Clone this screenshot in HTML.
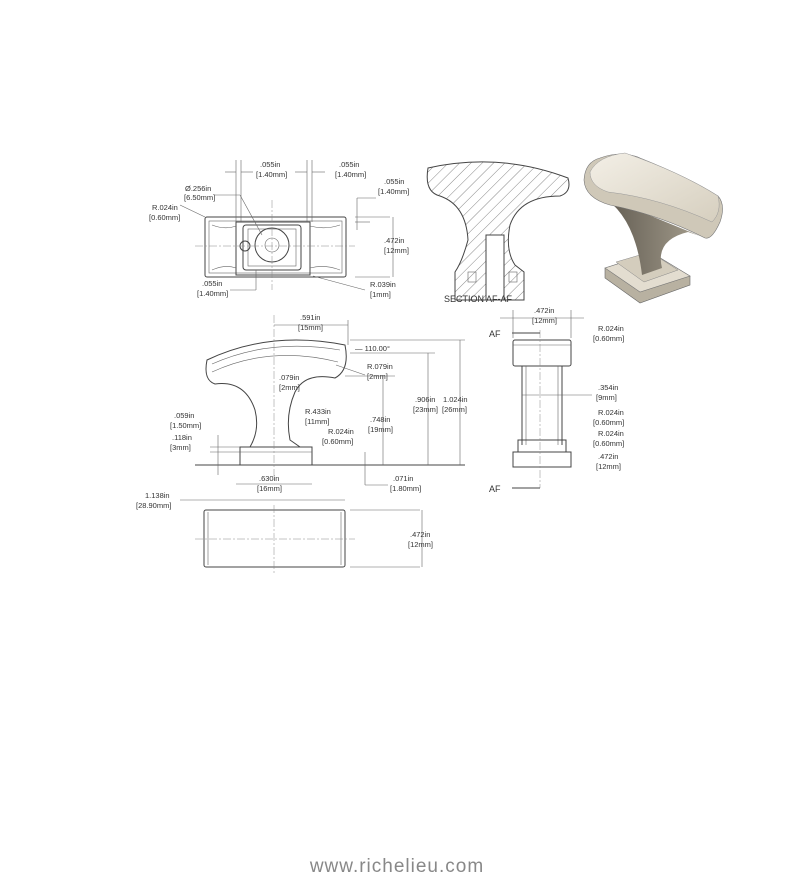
<!DOCTYPE html>
<html><head><meta charset="utf-8"><style>
html,body{margin:0;padding:0;background:#fff;}
svg{display:block;}
text{font-family:"Liberation Sans",sans-serif;font-size:7.5px;fill:#333;}
.l{stroke:#444;stroke-width:1;fill:none;}
.t{stroke:#666;stroke-width:0.6;fill:none;}
.c{stroke:#888;stroke-width:0.5;fill:none;stroke-dasharray:8 2 2 2;}
</style></head><body>
<svg width="796" height="880" viewBox="0 0 796 880" xmlns="http://www.w3.org/2000/svg">
<defs>
<pattern id="h" width="8" height="8" patternUnits="userSpaceOnUse" patternTransform="rotate(45)"><line x1="0" y1="0" x2="0" y2="8" stroke="#555" stroke-width="0.7"/></pattern>
<linearGradient id="g" x1="0" y1="0" x2="1" y2="1"><stop offset="0" stop-color="#f3efe6"/><stop offset="1" stop-color="#d6cfbf"/></linearGradient>
<linearGradient id="g2" x1="0" y1="0" x2="1" y2="0"><stop offset="0" stop-color="#5e584e"/><stop offset="1" stop-color="#a49d8d"/></linearGradient>
</defs>

<!-- TOP VIEW -->
<rect class="l" x="205" y="217" width="141" height="60" rx="2"/>
<rect class="t" x="209" y="221" width="133" height="52"/>
<rect class="l" x="236" y="222" width="74" height="53"/>
<rect class="l" x="243" y="225" width="58" height="45" rx="3"/>
<rect class="t" x="248" y="229" width="48" height="37"/>
<circle class="l" cx="272" cy="245" r="17"/>
<circle class="t" cx="272" cy="245" r="7"/>
<circle class="l" cx="245" cy="246" r="5"/>
<path class="t" d="M212 225 Q225 230 236 226 M212 270 Q225 264 236 268 M310 226 Q325 230 340 225 M310 268 Q325 264 340 270"/>
<line class="c" x1="195" y1="246" x2="355" y2="246"/><line class="c" x1="272" y1="200" x2="272" y2="290"/>
<line class="t" x1="236" y1="160" x2="236" y2="222"/><line class="t" x1="241" y1="160" x2="241" y2="222"/>
<line class="t" x1="307" y1="160" x2="307" y2="222"/><line class="t" x1="312" y1="160" x2="312" y2="222"/>
<line class="t" x1="225" y1="172" x2="236" y2="172"/><line class="t" x1="241" y1="172" x2="253" y2="172"/>
<line class="t" x1="295" y1="172" x2="307" y2="172"/><line class="t" x1="312" y1="172" x2="325" y2="172"/>
<text x="260" y="167">.055in</text><text x="256" y="177">[1.40mm]</text>
<text x="339" y="167">.055in</text><text x="335" y="177">[1.40mm]</text>
<text x="384" y="184">.055in</text><text x="378" y="194">[1.40mm]</text>
<line class="t" x1="355" y1="217" x2="390" y2="217"/><line class="t" x1="355" y1="222" x2="370" y2="222"/><line class="t" x1="355" y1="277" x2="390" y2="277"/>
<line class="t" x1="357" y1="198" x2="357" y2="230"/><line class="t" x1="357" y1="198" x2="376" y2="198"/>
<line class="t" x1="393" y1="217" x2="393" y2="277"/>
<text x="384" y="243">.472in</text><text x="384" y="253">[12mm]</text>
<text x="185" y="191">Ø.256in</text><text x="184" y="200">[6.50mm]</text>
<line class="t" x1="214" y1="195" x2="240" y2="195"/><line class="t" x1="240" y1="195" x2="262" y2="235"/>
<text x="152" y="210">R.024in</text><text x="149" y="220">[0.60mm]</text>
<line class="t" x1="180" y1="205" x2="205" y2="217"/>
<text x="202" y="286">.055in</text><text x="197" y="296">[1.40mm]</text>
<line class="t" x1="230" y1="290" x2="256" y2="290"/><line class="t" x1="256" y1="270" x2="256" y2="290"/>
<text x="370" y="287">R.039in</text><text x="370" y="297">[1mm]</text>
<line class="t" x1="313" y1="276" x2="365" y2="290"/>

<!-- SECTION -->
<path d="M428 168 Q500 152 568 178 Q572 192 560 196 Q520 196 510 225 Q505 250 515 265 L524 272 L524 300 L455 300 L455 272 Q462 262 468 240 Q466 205 440 196 Q424 192 428 168 Z" fill="url(#h)" stroke="#444"/>
<rect x="486" y="235" width="18" height="65" fill="#fff" stroke="#444"/>
<rect x="468" y="272" width="8" height="10" class="t"/><rect x="509" y="272" width="8" height="10" class="t"/>
<text x="444" y="302" style="font-size:9px">SECTION AF-AF</text>

<!-- 3D -->
<path d="M605 268 L652 253 L690 276 L690 285 L640 303 L605 278 Z" fill="#b8b1a1" stroke="#666" stroke-width="0.6"/>
<path d="M605 268 L652 253 L690 276 L640 292 Z" fill="#e3ddd0" stroke="#777" stroke-width="0.6"/>
<path d="M616 262 L650 252 L678 270 L644 282 Z" fill="#d4cdbd" stroke="#888" stroke-width="0.5"/>
<path d="M600 195 Q635 215 642 275 L662 268 Q655 240 688 232 L700 236 Z" fill="url(#g2)"/>
<path d="M584 180 Q585 162 600 158 Q622 150 640 158 Q690 178 718 196 Q726 205 720 222 Q712 240 705 238 Q660 215 610 205 Q585 198 584 180 Z" fill="#cfc8b8" stroke="#777" stroke-width="0.6"/>
<path d="M590 172 Q598 156 625 153 Q680 172 718 196 Q722 212 712 222 Q660 198 608 192 Q590 186 590 172 Z" fill="url(#g)" stroke="#999" stroke-width="0.5"/>

<!-- FRONT VIEW -->
<path class="l" d="M207 360 Q270 330 345 345 Q350 370 335 378 Q305 372 295 392 Q285 415 290 440 L300 447 L250 447 Q260 430 255 410 Q245 380 215 384 Q203 380 207 360 Z"/>
<path class="t" d="M212 364 Q270 338 340 350 M212 372 Q270 345 338 362"/>
<rect class="l" x="240" y="447" width="72" height="18"/>
<line class="t" x1="240" y1="452" x2="312" y2="452"/>
<line class="l" x1="195" y1="465" x2="465" y2="465"/>
<line class="c" x1="274" y1="315" x2="274" y2="480"/>
<line class="t" x1="274" y1="325" x2="348" y2="325"/><line class="t" x1="348" y1="320" x2="348" y2="345"/>
<text x="300" y="320">.591in</text><text x="298" y="330">[15mm]</text>
<text x="355" y="351">— 110.00°</text>
<text x="367" y="369">R.079in</text><text x="367" y="379">[2mm]</text>
<line class="t" x1="336" y1="365" x2="365" y2="375"/>
<text x="279" y="380">.079in</text><text x="279" y="390">[2mm]</text>
<text x="305" y="414">R.433in</text><text x="305" y="424">[11mm]</text>
<text x="328" y="434">R.024in</text><text x="322" y="444">[0.60mm]</text>
<text x="370" y="422">.748in</text><text x="368" y="432">[19mm]</text>
<line class="t" x1="383" y1="376" x2="383" y2="465"/><line class="t" x1="345" y1="376" x2="395" y2="376"/>
<text x="415" y="402">.906in</text><text x="413" y="412">[23mm]</text>
<line class="t" x1="428" y1="353" x2="428" y2="465"/><line class="t" x1="350" y1="353" x2="435" y2="353"/>
<text x="443" y="402">1.024in</text><text x="442" y="412">[26mm]</text>
<line class="t" x1="460" y1="340" x2="460" y2="465"/><line class="t" x1="350" y1="340" x2="465" y2="340"/>
<text x="174" y="418">.059in</text><text x="170" y="428">[1.50mm]</text>
<text x="172" y="440">.118in</text><text x="170" y="450">[3mm]</text>
<line class="t" x1="210" y1="447" x2="240" y2="447"/><line class="t" x1="210" y1="452" x2="240" y2="452"/>
<line class="t" x1="218" y1="435" x2="218" y2="475"/>
<text x="259" y="481">.630in</text><text x="257" y="491">[16mm]</text>
<line class="t" x1="236" y1="484" x2="312" y2="484"/>
<text x="393" y="481">.071in</text><text x="390" y="491">[1.80mm]</text>
<line class="t" x1="365" y1="452" x2="365" y2="485"/><line class="t" x1="365" y1="485" x2="388" y2="485"/>

<!-- BOTTOM VIEW -->
<rect class="l" x="204" y="510" width="141" height="57" rx="2"/>
<line class="t" x1="208" y1="512" x2="208" y2="565"/><line class="t" x1="341" y1="512" x2="341" y2="565"/>
<line class="c" x1="195" y1="539" x2="355" y2="539"/><line class="c" x1="274" y1="505" x2="274" y2="575"/>
<line class="t" x1="204" y1="500" x2="345" y2="500"/><line class="t" x1="180" y1="500" x2="204" y2="500"/>
<text x="145" y="498">1.138in</text><text x="136" y="508">[28.90mm]</text>
<line class="t" x1="350" y1="510" x2="420" y2="510"/><line class="t" x1="350" y1="567" x2="420" y2="567"/><line class="t" x1="422" y1="510" x2="422" y2="567"/>
<text x="410" y="537">.472in</text><text x="408" y="547">[12mm]</text>

<!-- RIGHT VIEW -->
<rect class="l" x="513" y="340" width="58" height="26" rx="2"/>
<line class="t" x1="513" y1="345" x2="571" y2="345"/>
<line class="l" x1="522" y1="366" x2="522" y2="445"/><line class="l" x1="562" y1="366" x2="562" y2="445"/>
<line class="t" x1="526" y1="366" x2="526" y2="445"/><line class="t" x1="558" y1="366" x2="558" y2="445"/>
<rect class="l" x="518" y="440" width="48" height="12"/>
<rect class="l" x="513" y="452" width="58" height="15"/>
<line class="c" x1="540" y1="330" x2="540" y2="488"/>
<line class="l" x1="512" y1="333" x2="540" y2="333"/><line class="l" x1="512" y1="488" x2="540" y2="488"/>
<text x="489" y="337" style="font-size:9px">AF</text><text x="489" y="492" style="font-size:9px">AF</text>
<text x="534" y="313">.472in</text><text x="532" y="323">[12mm]</text>
<line class="t" x1="513" y1="310" x2="513" y2="338"/><line class="t" x1="571" y1="310" x2="571" y2="338"/><line class="t" x1="500" y1="318" x2="584" y2="318"/>
<text x="598" y="331">R.024in</text><text x="593" y="341">[0.60mm]</text>
<text x="598" y="390">.354in</text><text x="596" y="400">[9mm]</text>
<line class="t" x1="522" y1="395" x2="592" y2="395"/>
<text x="598" y="415">R.024in</text><text x="593" y="425">[0.60mm]</text>
<text x="598" y="436">R.024in</text><text x="593" y="446">[0.60mm]</text>
<text x="598" y="459">.472in</text><text x="596" y="469">[12mm]</text>

<text x="397" y="872" text-anchor="middle" style="font-size:19px;fill:#888;letter-spacing:1px">www.richelieu.com</text>
</svg>
</body></html>
